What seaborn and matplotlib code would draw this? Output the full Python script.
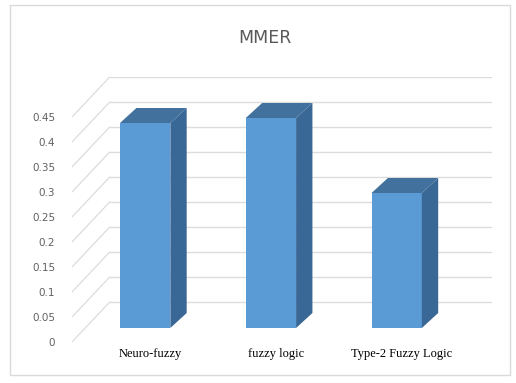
import matplotlib
matplotlib.use("Agg")
import matplotlib.pyplot as plt
from matplotlib.patches import Polygon, Rectangle
import seaborn as sns
import pandas as pd

categories = ["Neuro-fuzzy", "fuzzy logic", "Type-2 Fuzzy Logic"]
mmer = [0.41, 0.42, 0.27]
y_ticks = [0, 0.05, 0.1, 0.15, 0.2, 0.25, 0.3, 0.35, 0.4, 0.45]
y_labels = ["0", "0.05", "0.1", "0.15", "0.2", "0.25", "0.3", "0.35", "0.4", "0.45"]

df = pd.DataFrame({"method": categories, "MMER": mmer})

sns.set_theme(style="white")
plt.rcParams["font.family"] = ["DejaVu Sans"]

fig = plt.figure(figsize=(5.16, 3.83), dpi=100)
fig.patch.set_facecolor("white")

# outer chart border
fig.patches.append(Rectangle((10 / 516, 1 - 375 / 383), 500 / 516, 370 / 383,
                             transform=fig.transFigure, fill=False,
                             edgecolor="#d9d9d9", linewidth=1.0))

# oblique depth of the back wall and of the columns (data units)
DX, DY = 0.30, 0.080
SX, SY = 0.082, 0.028     # inward shift of the column front faces
BDX, BDY = 0.13, 0.030    # column depth

ax = fig.add_axes([72 / 516, 1 - 342 / 383, 420 / 516, 265 / 383])
sns.barplot(data=df, x="method", y="MMER", ax=ax, width=0.40,
            color="#5b9bd5", saturation=1, zorder=3)
ax.set_xlim(-0.5, 2.5 + DX + 0.04)
ax.set_ylim(0, 0.45 + DY)
for s in ax.spines.values():
    s.set_visible(False)

# back wall gridlines and the diagonal ties to the value labels
for t in y_ticks:
    ax.plot([-0.5 + DX, 2.5 + DX + 0.03], [t + DY, t + DY],
            color="#dcdcdc", lw=1.0, zorder=1)
    ax.plot([-0.5, -0.5 + DX], [t, t + DY], color="#dcdcdc", lw=0.9, zorder=1)

# give the columns a 3-D look: move front faces inward, add top and side faces
for p in ax.patches:
    x0 = p.get_x() + SX
    y0 = SY
    w, h = p.get_width(), p.get_height()
    p.set_x(x0)
    p.set_y(y0)
    p.set_edgecolor("none")
    top = [(x0, y0 + h), (x0 + w, y0 + h),
           (x0 + w + BDX, y0 + h + BDY), (x0 + BDX, y0 + h + BDY)]
    side = [(x0 + w, y0), (x0 + w + BDX, y0 + BDY),
            (x0 + w + BDX, y0 + h + BDY), (x0 + w, y0 + h)]
    ax.add_patch(Polygon(top, closed=True, facecolor="#41719c",
                         edgecolor="none", zorder=3))
    ax.add_patch(Polygon(side, closed=True, facecolor="#3a6896",
                         edgecolor="none", zorder=3))

ax.set_yticks(y_ticks)
ax.set_yticklabels(y_labels, fontsize=7.5, color="#606060")
ax.tick_params(axis="y", length=0, pad=12)

ax.set_xticks([i + SX + 0.04 for i in range(len(categories))])
ax.set_xticklabels(categories, fontsize=9, color="black",
                   family=["Liberation Serif"])
ax.tick_params(axis="x", length=0, pad=4)
ax.set_xlabel("")
ax.set_ylabel("")

fig.text(265 / 516, 1 - 38 / 383, "MMER", ha="center", va="center",
         fontsize=12.5, color="#595959")

fig.savefig("out.png", dpi=100, facecolor="white")
